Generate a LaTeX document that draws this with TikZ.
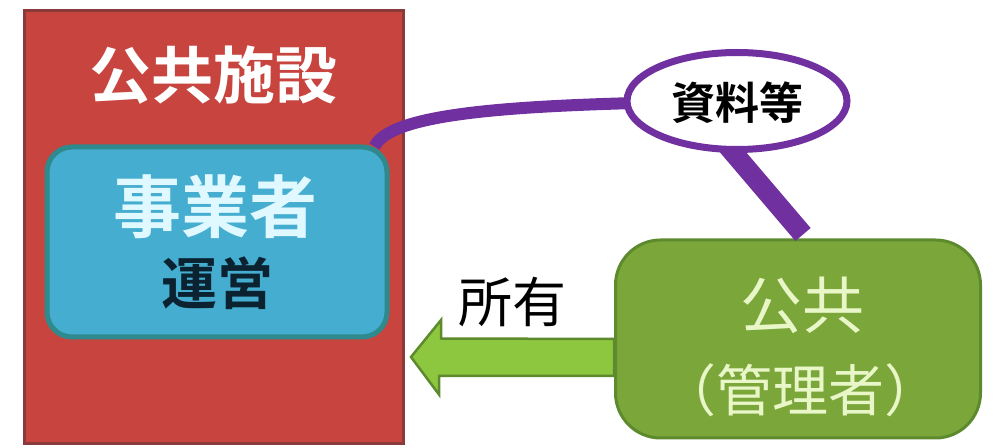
\documentclass[tikz,border=0pt]{standalone}
\usepackage{fontspec}
\setmainfont{Noto Sans CJK JP}[BoldFont={Noto Sans CJK JP Bold}]
\usetikzlibrary{shapes.geometric}
\definecolor{facilityred}{HTML}{C8453F}
\definecolor{facilityedge}{HTML}{8A3A3A}
\definecolor{operatorblue}{HTML}{45ADCF}
\definecolor{operatoredge}{HTML}{2E8A8C}
\definecolor{feepurple}{HTML}{7030A0}
\definecolor{publicgreen}{HTML}{7BA63A}
\definecolor{publicedge}{HTML}{5E8A2E}
\definecolor{arrowgreen}{HTML}{8DC63F}
\definecolor{paletext}{HTML}{E8F6C8}
\begin{document}
\begin{tikzpicture}[x=1pt, y=1pt,
    facility/.style ={draw=facilityedge, fill=facilityred, line width=3pt, minimum width=379pt, minimum height=433pt, inner sep=0pt},
    operator/.style ={draw=operatoredge, fill=operatorblue, line width=5pt, rounded corners=25pt, minimum width=340pt, minimum height=190pt, inner sep=0pt},
    fee/.style ={ellipse, draw=feepurple, fill=white, line width=7pt, minimum width=220pt, minimum height=97pt, inner sep=0pt},
    public/.style ={draw=publicedge, fill=publicgreen, line width=3pt, rounded corners=45pt, minimum width=365pt, minimum height=198pt, inner sep=0pt},
    feeline/.style ={draw=feepurple, line width=12pt},
    ownarrow/.style ={draw=publicedge, fill=arrowgreen, line width=2.5pt, line join=miter},
    label/.style ={inner sep=0pt}]
   \useasboundingbox (0,0) rectangle (993,447);
   \node[facility] (facility) at (214,220) {};
   \node[label, text=white, font=\bfseries\fontsize{62}{62}\selectfont] (title) at (213,372) {公共施設};
   \node[operator] (operator) at (217,205) {};
   \node[label, text={rgb,255:red,224;green,248;blue,255}, font=\bfseries\fontsize{68}{68}\selectfont] (operatorname) at (215,240) {事業者};
   \node[label, text={rgb,255:red,11;green,34;blue,48}, font=\bfseries\fontsize{56}{56}\selectfont] (operation) at (217,164) {運営};
   \node[public] (public) at (798,108) {};
   \node[label, text=paletext, font=\fontsize{62}{62}\selectfont] (publicname) at (802,142) {公共};
   \node[label, text=paletext, font=\fontsize{56}{56}\selectfont] (manager) at (800,57) {（管理者）};
   % fee line
   \draw[feeline] ([xshift=-15pt,yshift=-2pt]operator.north east) .. controls +(18,37) and +(-200,-3) .. (737,346);
   \draw[feeline, line width=20pt] (720,310) -- ([xshift=5pt,yshift=4pt]public.north);
   \node[fee] (fee) at (737,346) {};
   \node[label, font=\bfseries\fontsize{44}{44}\selectfont] (feetext) at (737,344) {資料等};
   % ownership arrow
   \coordinate (tip) at ([xshift=6pt,yshift=-130pt]facility.east);
   \draw[ownarrow] (tip) -- ++(30,37) -- ++(0,-18.5) -- (public.west) -- ([yshift=-37pt]public.west) -- ++(-175,0) -- ++(0,-18.5) -- cycle;
   \node[label, font=\fontsize{54}{54}\selectfont] (own) at (512,145) {所有};
\end{tikzpicture}
\end{document}
